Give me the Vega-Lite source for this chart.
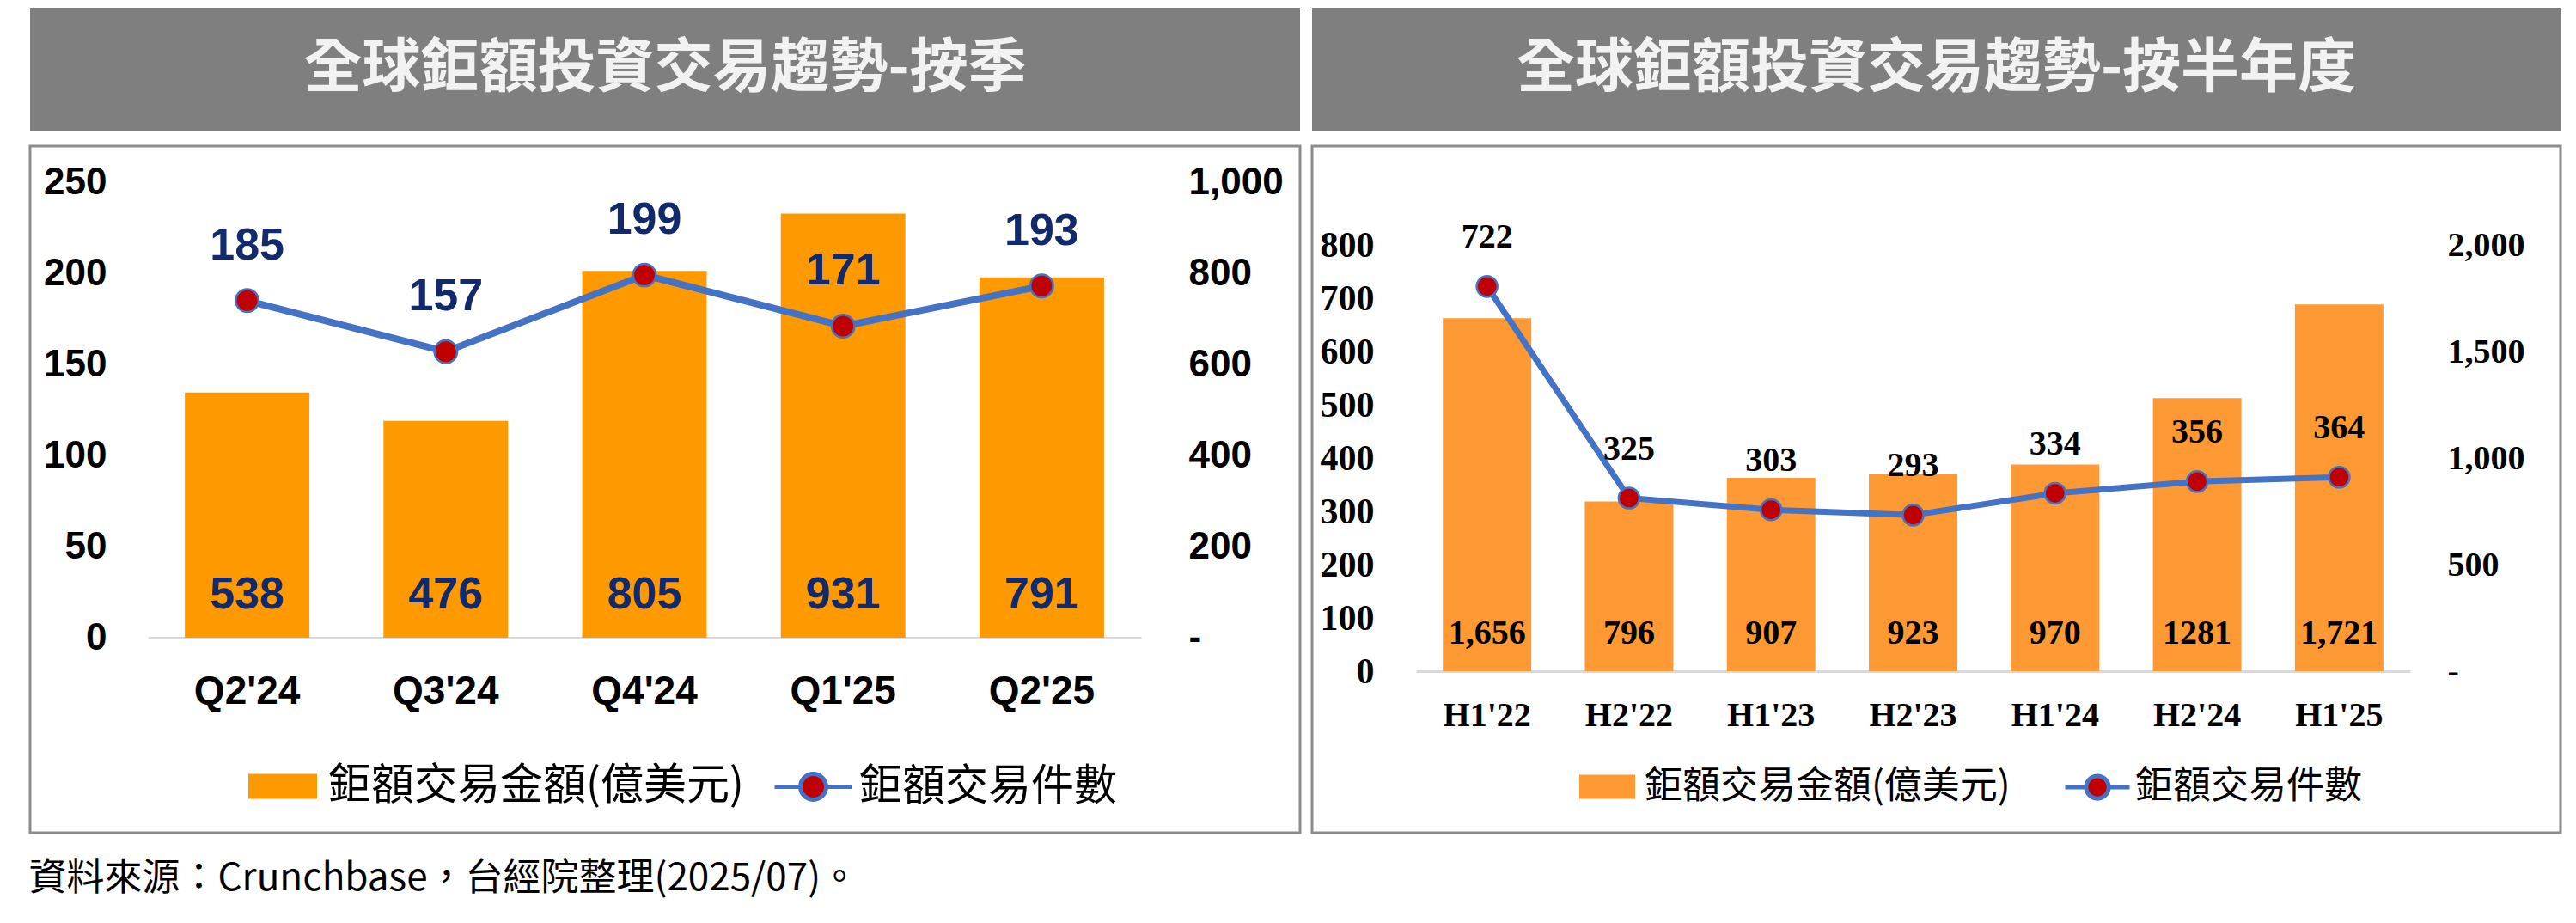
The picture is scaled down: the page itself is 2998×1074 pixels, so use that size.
{
  "$schema": "https://vega.github.io/schema/vega-lite/v6.json",
  "description": "Global mega-deal investment trends, quarterly and half-yearly",
  "background": "white",
  "padding": {"left": 33, "top": 9, "right": 0, "bottom": 24},
  "title": {
    "text": "資料來源：Crunchbase，台經院整理(2025/07)。",
    "orient": "bottom",
    "anchor": "start",
    "font": "Noto Sans CJK TC",
    "fontSize": 44,
    "fontWeight": "normal",
    "color": "black",
    "offset": 30
  },
  "config": {
    "font": "Liberation Sans",
    "axis": {"grid": false, "title": null, "labelFlush": false, "labelOverlap": false},
    "legend": {"padding": 0, "labelColor": "black", "labelLimit": 0, "title": null, "orient": "none"}
  },
  "spacing": 10,
  "resolve": {
    "scale": {"fill": "independent", "stroke": "independent"},
    "legend": {"fill": "independent", "stroke": "independent"}
  },
  "hconcat": [
    {
      "spacing": 16,
      "resolve": {
        "scale": {"fill": "independent", "stroke": "independent"},
        "legend": {"fill": "independent", "stroke": "independent"}
      },
      "vconcat": [
        {
          "width": 1478,
          "height": 143,
          "view": {"fill": "#7F7F7F", "stroke": null},
          "data": {"values": [{"t": "全球鉅額投資交易趨勢-按季"}]},
          "mark": {"type": "text", "font": "Noto Sans CJK TC", "fontWeight": "bold", "fontSize": 68, "color": "#F2F2F2", "align": "center", "baseline": "middle"},
          "encoding": {
            "x": {"datum": 0.5, "type": "quantitative", "scale": {"domain": [0, 1]}, "axis": null},
            "y": {"datum": 0.5, "type": "quantitative", "scale": {"domain": [0, 1]}, "axis": null},
            "text": {"field": "t"}
          }
        },
        {
          "width": 1478,
          "height": 799,
          "view": {"fill": "white", "stroke": "#8C8C8C", "strokeWidth": 3},
          "data": {
            "values": [
              {"period": "Q2'24", "amount": 538, "deals": 185},
              {"period": "Q3'24", "amount": 476, "deals": 157},
              {"period": "Q4'24", "amount": 805, "deals": 199},
              {"period": "Q1'25", "amount": 931, "deals": 171},
              {"period": "Q2'25", "amount": 791, "deals": 193}
            ]
          },
          "encoding": {
            "x": {
              "field": "period", "type": "ordinal", "sort": null,
              "scale": {"range": [137, 1293], "paddingInner": 0.373, "paddingOuter": 0.1865},
              "axis": {
                "orient": "bottom", "offset": -227, "labelAngle": 0,
                "domainColor": "#D9D9D9", "domainWidth": 3, "ticks": false, "tickSize": 0,
                "labelPadding": 62, "labelBaseline": "middle",
                "labelFont": "Liberation Sans", "labelFontWeight": "bold", "labelFontSize": 46, "labelColor": "black"
              }
            }
          },
          "resolve": {"scale": {"y": "independent"}},
          "layer": [
            {
              "encoding": {
                "y": {
                  "field": "amount", "type": "quantitative",
                  "scale": {"domain": [0, 1000], "range": [572, 42], "nice": false},
                  "axis": {
                    "orient": "right", "offset": -130, "values": [0, 200, 400, 600, 800, 1000],
                    "labelExpr": "datum.value === 0 ? '-' : format(datum.value, ',')",
                    "domain": false, "ticks": false, "tickSize": 0, "labelPadding": 0,
                    "labelAlign": "left", "labelBaseline": "middle",
                    "labelFont": "Liberation Sans", "labelFontWeight": "bold", "labelFontSize": 44, "labelColor": "black"
                  }
                }
              },
              "layer": [
                {
                  "mark": {"type": "bar"},
                  "encoding": {
                    "fill": {
                      "datum": "鉅額交易金額(億美元)",
                      "scale": {"range": ["#FF9900"]},
                      "legend": {
                        "legendX": 249, "legendY": 700,
                        "symbolType": "M-0.889,-0.322H0.889V0.322H-0.889Z",
                        "symbolSize": 8100, "symbolStrokeWidth": 0, "symbolOpacity": 1,
                        "labelOffset": 8, "labelFont": "Noto Sans CJK TC", "labelFontSize": 50
                      }
                    }
                  }
                },
                {
                  "mark": {"type": "text", "font": "Liberation Sans", "fontWeight": "bold", "fontSize": 52, "color": "#12296B", "baseline": "middle", "dy": -50},
                  "encoding": {
                    "y": {"datum": 0, "type": "quantitative"},
                    "text": {"field": "amount", "type": "quantitative", "format": ","}
                  }
                }
              ]
            },
            {
              "encoding": {
                "y": {
                  "field": "deals", "type": "quantitative",
                  "scale": {"domain": [0, 250], "range": [572, 42], "nice": false},
                  "axis": {
                    "orient": "left", "offset": -89, "values": [0, 50, 100, 150, 200, 250],
                    "domain": false, "ticks": false, "tickSize": 0, "labelPadding": 0,
                    "labelAlign": "right", "labelBaseline": "middle",
                    "labelFont": "Liberation Sans", "labelFontWeight": "bold", "labelFontSize": 44, "labelColor": "black"
                  }
                }
              },
              "layer": [
                {
                  "mark": {"type": "line", "strokeWidth": 8},
                  "encoding": {
                    "stroke": {
                      "datum": "鉅額交易件數",
                      "scale": {"range": ["#4472C4"]},
                      "legend": {
                        "legendX": 864, "legendY": 698,
                        "symbolType": "M-1,0H-0.333M0.333,0H1M-0.333,0A0.333,0.333,0,1,0,0.333,0A0.333,0.333,0,1,0,-0.333,0Z",
                        "symbolSize": 8100, "symbolStrokeWidth": 5, "symbolFillColor": "#C00000", "symbolOpacity": 1,
                        "labelOffset": 6, "labelFont": "Noto Sans CJK TC", "labelFontSize": 50
                      }
                    }
                  }
                },
                {
                  "mark": {"type": "circle", "size": 700, "fill": "#C00000", "stroke": "#4472C4", "strokeWidth": 2.5, "opacity": 1}
                },
                {
                  "mark": {"type": "text", "font": "Liberation Sans", "fontWeight": "bold", "fontSize": 52, "color": "#12296B", "baseline": "middle", "dy": -64},
                  "encoding": {"text": {"field": "deals", "type": "quantitative"}}
                }
              ]
            }
          ]
        }
      ]
    },
    {
      "spacing": 16,
      "resolve": {
        "scale": {"fill": "independent", "stroke": "independent"},
        "legend": {"fill": "independent", "stroke": "independent"}
      },
      "vconcat": [
        {
          "width": 1453,
          "height": 143,
          "view": {"fill": "#7F7F7F", "stroke": null},
          "data": {"values": [{"t": "全球鉅額投資交易趨勢-按半年度"}]},
          "mark": {"type": "text", "font": "Noto Sans CJK TC", "fontWeight": "bold", "fontSize": 68, "color": "#F2F2F2", "align": "center", "baseline": "middle"},
          "encoding": {
            "x": {"datum": 0.5, "type": "quantitative", "scale": {"domain": [0, 1]}, "axis": null},
            "y": {"datum": 0.5, "type": "quantitative", "scale": {"domain": [0, 1]}, "axis": null},
            "text": {"field": "t"}
          }
        },
        {
          "width": 1453,
          "height": 799,
          "view": {"fill": "white", "stroke": "#8C8C8C", "strokeWidth": 3},
          "data": {
            "values": [
              {"period": "H1'22", "amount": 1656, "amountLabel": "1,656", "deals": 722},
              {"period": "H2'22", "amount": 796, "amountLabel": "796", "deals": 325},
              {"period": "H1'23", "amount": 907, "amountLabel": "907", "deals": 303},
              {"period": "H2'23", "amount": 923, "amountLabel": "923", "deals": 293},
              {"period": "H1'24", "amount": 970, "amountLabel": "970", "deals": 334},
              {"period": "H2'24", "amount": 1281, "amountLabel": "1281", "deals": 356},
              {"period": "H1'25", "amount": 1721, "amountLabel": "1,721", "deals": 364}
            ]
          },
          "encoding": {
            "x": {
              "field": "period", "type": "ordinal", "sort": null,
              "scale": {"range": [121, 1278], "paddingInner": 0.377, "paddingOuter": 0.1885},
              "axis": {
                "orient": "bottom", "offset": -188, "labelAngle": 0,
                "domainColor": "#D9D9D9", "domainWidth": 3, "ticks": false, "tickSize": 0,
                "labelPadding": 51, "labelBaseline": "middle",
                "labelFont": "Liberation Serif", "labelFontWeight": "bold", "labelFontSize": 40, "labelColor": "black"
              }
            }
          },
          "resolve": {"scale": {"y": "independent"}},
          "layer": [
            {
              "encoding": {
                "y": {
                  "field": "amount", "type": "quantitative",
                  "scale": {"domain": [0, 2000], "range": [611, 115], "nice": false},
                  "axis": {
                    "orient": "right", "offset": -132, "values": [0, 500, 1000, 1500, 2000],
                    "labelExpr": "datum.value === 0 ? '-' : format(datum.value, ',')",
                    "domain": false, "ticks": false, "tickSize": 0, "labelPadding": 0,
                    "labelAlign": "left", "labelBaseline": "middle",
                    "labelFont": "Liberation Serif", "labelFontWeight": "bold", "labelFontSize": 40, "labelColor": "black"
                  }
                }
              },
              "layer": [
                {
                  "mark": {"type": "bar"},
                  "encoding": {
                    "fill": {
                      "datum": "鉅額交易金額(億美元)",
                      "scale": {"range": ["#FF9933"]},
                      "legend": {
                        "legendX": 306, "legendY": 708,
                        "symbolType": "M-0.867,-0.373H0.867V0.373H-0.867Z",
                        "symbolSize": 5625, "symbolStrokeWidth": 0, "symbolOpacity": 1,
                        "labelOffset": 6, "labelFont": "Noto Sans CJK TC", "labelFontSize": 44
                      }
                    }
                  }
                },
                {
                  "mark": {"type": "text", "font": "Liberation Serif", "fontWeight": "bold", "fontSize": 40, "color": "black", "baseline": "middle", "dy": -44},
                  "encoding": {
                    "y": {"datum": 0, "type": "quantitative"},
                    "text": {"field": "amountLabel"}
                  }
                }
              ]
            },
            {
              "encoding": {
                "y": {
                  "field": "deals", "type": "quantitative",
                  "scale": {"domain": [0, 800], "range": [611, 115], "nice": false},
                  "axis": {
                    "orient": "left", "offset": -72, "values": [0, 100, 200, 300, 400, 500, 600, 700, 800],
                    "domain": false, "ticks": false, "tickSize": 0, "labelPadding": 0,
                    "labelAlign": "right", "labelBaseline": "middle",
                    "labelFont": "Liberation Serif", "labelFontWeight": "bold", "labelFontSize": 42, "labelColor": "black"
                  }
                }
              },
              "layer": [
                {
                  "mark": {"type": "line", "strokeWidth": 7},
                  "encoding": {
                    "stroke": {
                      "datum": "鉅額交易件數",
                      "scale": {"range": ["#4472C4"]},
                      "legend": {
                        "legendX": 874, "legendY": 706,
                        "symbolType": "M-1,0H-0.35M0.35,0H1M-0.35,0A0.35,0.35,0,1,0,0.35,0A0.35,0.35,0,1,0,-0.35,0Z",
                        "symbolSize": 5625, "symbolStrokeWidth": 5, "symbolFillColor": "#C00000", "symbolOpacity": 1,
                        "labelOffset": 4, "labelFont": "Noto Sans CJK TC", "labelFontSize": 44
                      }
                    }
                  }
                },
                {
                  "mark": {"type": "circle", "size": 580, "fill": "#C00000", "stroke": "#4472C4", "strokeWidth": 2.5, "opacity": 1}
                },
                {
                  "mark": {"type": "text", "font": "Liberation Serif", "fontWeight": "bold", "fontSize": 40, "color": "black", "baseline": "middle", "dy": -57},
                  "encoding": {"text": {"field": "deals", "type": "quantitative"}}
                }
              ]
            }
          ]
        }
      ]
    }
  ]
}
